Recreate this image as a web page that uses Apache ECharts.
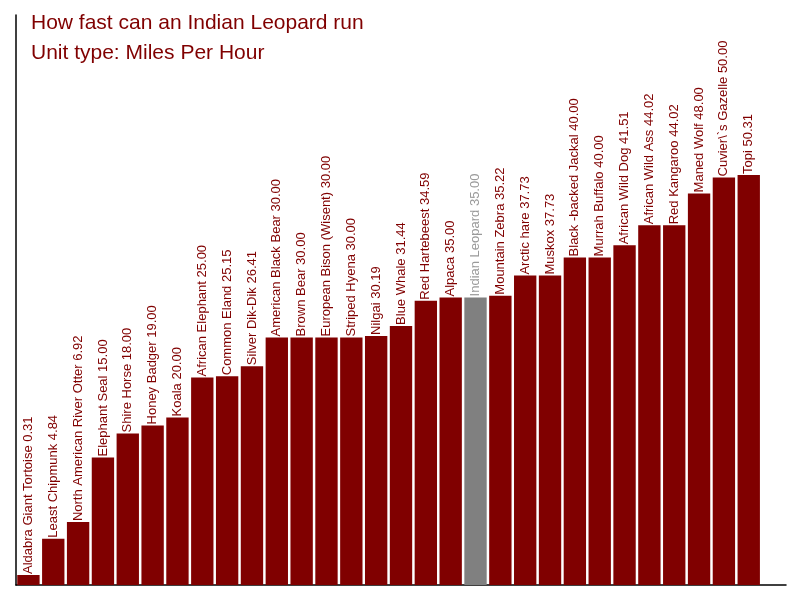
<!DOCTYPE html>
<html>
<head>
<meta charset="utf-8">
<script src="https://cdn.jsdelivr.net/npm/echarts@6/dist/echarts.min.js"></script>
<style>html,body{margin:0;padding:0;background:#fff}#c{width:800px;height:600px}</style>
</head>
<body>
<div id="c"></div>
<script>
const titleLines = ['How fast can an Indian Leopard run', 'Unit type: Miles Per Hour'];
const animals = ['Aldabra Giant Tortoise','Least Chipmunk','North American River Otter','Elephant Seal','Shire Horse','Honey Badger','Koala','African Elephant','Common Eland','Silver Dik-Dik','American Black Bear','Brown Bear','European Bison (Wisent)','Striped Hyena','Nilgai','Blue Whale','Red Hartebeest','Alpaca','Indian Leopard','Mountain Zebra','Arctic hare','Muskox','Black -backed Jackal','Murrah Buffalo','African Wild Dog','African Wild Ass','Red Kangaroo','Maned Wolf','Cuvier\\`s Gazelle','Topi'];
const speeds = [0.31,4.84,6.92,15.00,18.00,19.00,20.00,25.00,25.15,26.41,30.00,30.00,30.00,30.00,30.19,31.44,34.59,35.00,35.00,35.22,37.73,37.73,40.00,40.00,41.51,44.02,44.02,48.00,50.00,50.31];
const highlighted = 'Indian Leopard';

const MAROON = '#800000';
const Y_MIN = -0.94;
const chart = echarts.init(document.getElementById('c'), null, {renderer: 'canvas'});
chart.setOption({
  animation: false,
  backgroundColor: '#ffffff',
  title: {
    text: titleLines.join('\n'),
    left: 26,
    top: 3,
    textStyle: {color: MAROON, fontFamily: 'Liberation Sans, Arial, sans-serif', fontSize: 21, fontWeight: 'normal', lineHeight: 30}
  },
  grid: {left: 16, top: 15, width: 770, bottom: 15},
  xAxis: {
    type: 'category',
    data: animals,
    max: animals.length,
    boundaryGap: true,
    axisLine: {show: true, onZero: false, lineStyle: {color: '#000', width: 1.5}},
    axisTick: {show: false},
    axisLabel: {show: false},
    splitLine: {show: false}
  },
  yAxis: {
    type: 'value',
    min: Y_MIN,
    max: 70.3,
    startValue: Y_MIN,
    axisLine: {show: true, onZero: false, lineStyle: {color: '#000', width: 1.5}},
    axisTick: {show: false},
    axisLabel: {show: false},
    splitLine: {show: false}
  },
  series: [{
    type: 'bar',
    barCategoryGap: '10%',
    data: speeds.map((v, i) => {
      const hi = animals[i] === highlighted;
      return {
        value: v,
        itemStyle: {color: hi ? '#808080' : MAROON},
        label: {color: hi ? '#9a9a9a' : MAROON}
      };
    }),
    label: {
      show: true,
      position: 'top',
      rotate: 90,
      align: 'left',
      verticalAlign: 'middle',
      distance: 1,
      fontFamily: 'Liberation Sans, Arial, sans-serif',
      fontSize: 13,
      formatter: p => p.name + ' ' + speeds[p.dataIndex].toFixed(2)
    }
  }]
});
</script>
</body>
</html>
